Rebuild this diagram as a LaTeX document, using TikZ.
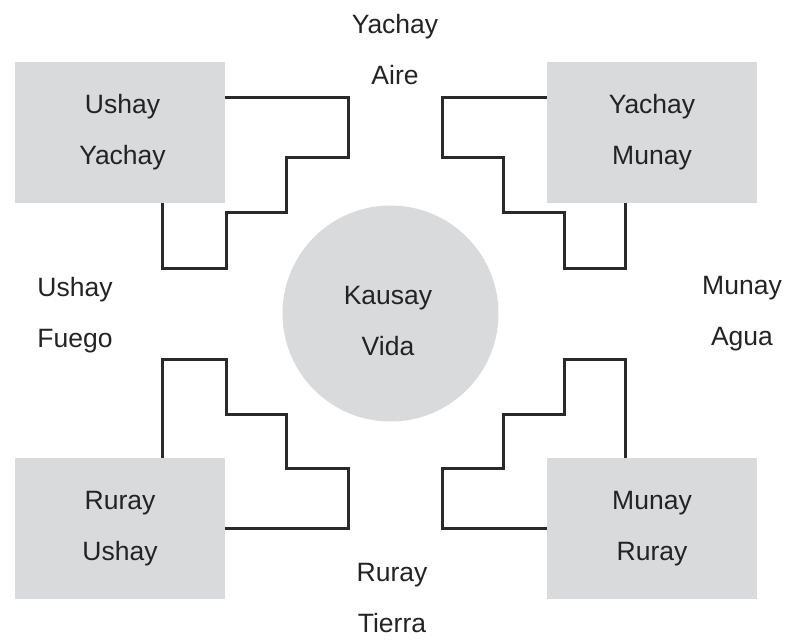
\documentclass[tikz,border=0pt]{standalone}
\usepackage{fontspec}
\setmainfont{Liberation Sans}
\usetikzlibrary{calc}
\definecolor{boxgray}{HTML}{D9DADC}
\definecolor{inkc}{HTML}{232325}
\definecolor{linec}{HTML}{2A2A2A}
\tikzset{
  x=1pt,y=-1pt,
  txt/.style={text=inkc,font=\fontsize{26.5}{51}\selectfont,align=center,inner sep=0pt},
  quad/.style={txt,fill=boxgray,minimum width=210pt,minimum height=141pt},
  core/.style={fill=boxgray,circle,minimum size=216pt,inner sep=0pt},
  stair/.style={draw=linec,line width=3pt,line join=miter}
}
\begin{document}
\begin{tikzpicture}
\useasboundingbox (0,0) rectangle (787,640);
% boxes
\node[quad] (ul) at (120,132.5) {\hspace*{5pt}Ushay\\\hspace*{5pt}Yachay};
\node[quad] (ur) at (652,132.5) {Yachay\\Munay};
\node[quad] (ll) at (120,528.5) {Ruray\\Ushay};
\node[quad] (lr) at (652,528.5) {Munay\\Ruray};
% center
\node[core] (kc) at (390.5,313.5) {};
\node[txt] (kt) at (388,321) {Kausay\\Vida};
% side labels
\node[txt] (top) at (395,50) {Yachay\\Aire};
\node[txt] (bot) at (392,598) {Ruray\\Tierra};
\node[txt] (lft) at (75,315) {Ushay\\Fuego};
\node[txt] (rgt) at (742,314) {Munay\\Agua};
% stairs
\draw[stair] ($(ul.north east)+(0,36)$) -| (348,157) -| (286,212) -| (226,268) -| ($(ul.south west)+(148,0)$);
\draw[stair] ($(ur.north west)+(0,36)$) -| (442,157) -| (503,212) -| (564,268) -| ($(ur.south west)+(79,0)$);
\draw[stair] ($(ll.north west)+(148,0)$) |- (226,359) |- (286,414) |- (348,468) |- ($(ll.south east)+(0,-71)$);
\draw[stair] ($(lr.north west)+(79,0)$) |- (564,359) |- (503,414) |- (442,468) |- ($(lr.south west)+(0,-71)$);
\end{tikzpicture}
\end{document}
